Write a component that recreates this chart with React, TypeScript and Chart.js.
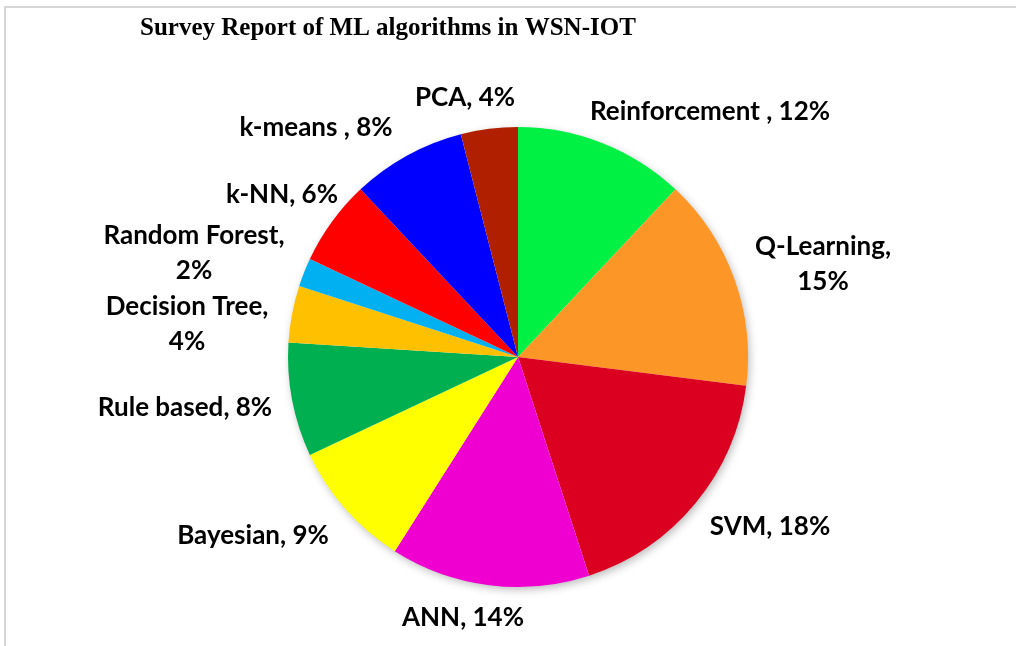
import React, { useEffect, useRef } from "react";
import { Chart, registerables } from "chart.js";

Chart.register(...registerables);

const TITLE = "Survey Report of ML algorithms in WSN-IOT";
const categories = [
  "Reinforcement ",
  "Q-Learning",
  "SVM",
  "ANN",
  "Bayesian",
  "Rule based",
  "Decision Tree",
  "Random Forest",
  "k-NN",
  "k-means ",
  "PCA",
];
const shares = [12, 15, 18, 14, 9, 8, 4, 2, 6, 8, 4];
const colors = [
  "#00F044",
  "#FC9626",
  "#DC0020",
  "#F000D0",
  "#FFFF00",
  "#00B050",
  "#FFC000",
  "#00B0F0",
  "#FF0000",
  "#0000FF",
  "#B02000",
];
// label lines split (Excel-style wrapping)
const wrapAfterComma = [false, true, false, false, false, false, true, true, false, false, false];
// label block center offsets from the pie center (layout only)
const labelOffsets: [number, number][] = [
  [192, -245],
  [305, -93],
  [252, 170],
  [-55, 261],
  [-265, 179],
  [-333, 51],
  [-331, -33],
  [-324, -104],
  [-236, -162],
  [-202, -229],
  [-53, -259],
];

const LABEL_FONT = "bold 26px Lato, 'Open Sans', sans-serif";
const LINE_H = 35;

const decorPlugin = {
  id: "decor",
  beforeDraw(chart: any) {
    const ctx = chart.ctx;
    ctx.save();
    ctx.fillStyle = "#ffffff";
    ctx.fillRect(0, 0, chart.width, chart.height);
    ctx.strokeStyle = "#d6d6d6";
    ctx.lineWidth = 2;
    ctx.beginPath();
    ctx.moveTo(5, chart.height);
    ctx.lineTo(5, 7);
    ctx.lineTo(chart.width, 7);
    ctx.stroke();
    ctx.fillStyle = "#000";
    ctx.font = "bold 25px 'Liberation Serif', 'Times New Roman', serif";
    ctx.textAlign = "left";
    ctx.textBaseline = "middle";
    ctx.fillText(TITLE, 140, 29);
    ctx.restore();
  },
  beforeDatasetsDraw(chart: any) {
    const arc = chart.getDatasetMeta(0).data[0];
    if (!arc) return;
    const ctx = chart.ctx;
    ctx.save();
    ctx.shadowColor = "rgba(0,0,0,0.3)";
    ctx.shadowBlur = 10;
    ctx.shadowOffsetX = 2;
    ctx.shadowOffsetY = 3;
    ctx.fillStyle = "#ffffff";
    ctx.beginPath();
    ctx.arc(arc.x, arc.y, arc.outerRadius - 1, 0, Math.PI * 2);
    ctx.fill();
    ctx.restore();
  },
  afterDatasetsDraw(chart: any) {
    const meta = chart.getDatasetMeta(0);
    const ctx = chart.ctx;
    ctx.save();
    ctx.fillStyle = "#000";
    ctx.font = LABEL_FONT;
    ctx.textAlign = "center";
    ctx.textBaseline = "middle";
    meta.data.forEach((a: any, i: number) => {
      const cx = a.x + labelOffsets[i][0];
      const cy = a.y + labelOffsets[i][1];
      const pct = shares[i] + "%";
      const lines = wrapAfterComma[i]
        ? [categories[i] + ",", pct]
        : [categories[i] + ", " + pct];
      const start = cy - ((lines.length - 1) * LINE_H) / 2;
      lines.forEach((t, k) => ctx.fillText(t, cx, start + k * LINE_H));
    });
    ctx.restore();
  },
};

export default function App() {
  const ref = useRef<HTMLCanvasElement>(null);
  useEffect(() => {
    if (!ref.current) return;
    const chart = new Chart(ref.current, {
      type: "pie",
      data: {
        labels: categories,
        datasets: [
          {
            data: shares,
            backgroundColor: colors,
            borderWidth: 0,
          },
        ],
      },
      options: {
        animation: false,
        responsive: false,
        maintainAspectRatio: false,
        layout: { padding: { top: 127, bottom: 59, left: 218, right: 198 } },
        plugins: {
          legend: { display: false },
          tooltip: { enabled: false },
          title: { display: false },
        },
      },
      plugins: [decorPlugin],
    });
    return () => chart.destroy();
  }, []);
  return (
    <div style={{ position: "fixed", left: 0, top: 0, width: 1016, height: 646 }}>
      <canvas ref={ref} width={1016} height={646} style={{ display: "block" }} />
    </div>
  );
}
